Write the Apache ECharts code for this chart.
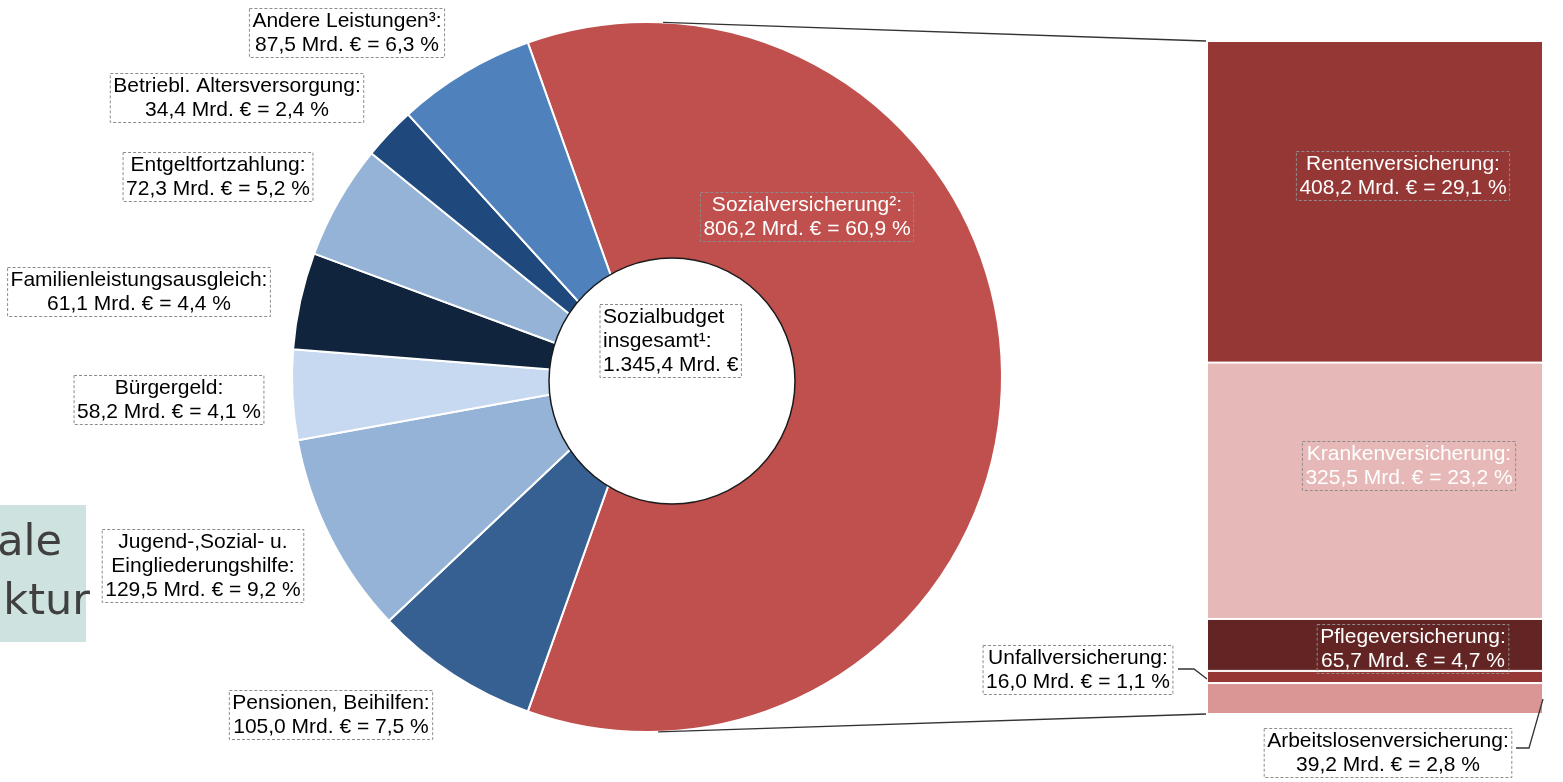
<!DOCTYPE html>
<html>
<head>
<meta charset="utf-8">
<script src="https://cdn.jsdelivr.net/npm/echarts@6/dist/echarts.min.js"></script>
<style>
  html, body { margin: 0; padding: 0; background: #fff; }
  #chart { width: 1563px; height: 782px; }
</style>
</head>
<body>
<div id="chart"></div>
<script>
// Sozialbudget – Kreis
const pieNames = ['Sozialversicherung²', 'Pensionen, Beihilfen', 'Jugend-,Sozial- u.\nEingliederungshilfe', 'Bürgergeld',
  'Familienleistungsausgleich', 'Entgeltfortzahlung', 'Betriebl. Altersversorgung', 'Andere Leistungen³']
const pieAmounts = [806.2, 105.0, 129.5, 58.2, 61.1, 72.3, 34.4, 87.5]
const piePercents = [60.9, 7.5, 9.2, 4.1, 4.4, 5.2, 2.4, 6.3]
const totalName = 'Sozialbudget\ninsgesamt¹'
const totalAmount = 1345.4

// Sozialversicherung – Balken (von unten nach oben)
const barNames = ['Arbeitslosenversicherung', 'Unfallversicherung', 'Pflegeversicherung', 'Krankenversicherung', 'Rentenversicherung']
const barAmounts = [39.2, 16.0, 65.7, 325.5, 408.2]
const barPercents = [2.8, 1.1, 4.7, 23.2, 29.1]

// Farben
const pieColors = ['#C0504D', '#376092', '#95B3D7', '#C6D9F1', '#10243E', '#95B3D7', '#1F497D', '#4F81BD']
const barColors = ['#D99694', '#953735', '#632523', '#E6B9B8', '#953735']
const barTextColors = ['#000', '#000', '#fff', '#fff', '#fff']

// Label-Positionen (Mittelpunkte) und Führungslinien
const pieLabelPos = [[807, 217], [331, 715], [203, 566], [169, 400], [139, 292], [218, 177], [237, 98], [347, 33]]
const barLabelPos = [[1388, 753], [1078, 670], [1413, 649], [1409, 466], [1403, 176]]
const leaderLines = [
  [[1516, 748], [1529, 748], [1543, 699]],
  [[1178, 669], [1194, 669], [1207, 679]]
]

const PIE_C = [647, 377]
const PIE_R = 355
const FONT = "'Liberation Sans', Arial, sans-serif"

const fmt = v => v.toFixed(1).replace('.', ',')
const fmtThousands = v => {
  const parts = v.toFixed(1).split('.')
  return parts[0].replace(/\B(?=(\d{3})+(?!\d))/g, '.') + ',' + parts[1]
}

const boxLabel = {
  fontFamily: FONT,
  fontSize: 21,
  lineHeight: 24,
  color: '#000',
  borderColor: '#8c8c8c',
  borderWidth: 1,
  borderType: [3, 2],
  padding: [1, 3, 0, 3]
}

const chart = echarts.init(document.getElementById('chart'))

const barSum = barPercents.reduce((a, b) => a + b, 0)

chart.setOption({
  animation: false,
  grid: { left: 1207, top: 41, width: 336, height: 673 },
  xAxis: { type: 'category', data: ['Sozialversicherung'], show: false },
  yAxis: { type: 'value', min: 0, max: barSum, show: false },
  series: [
    {
      type: 'pie',
      center: PIE_C,
      radius: [0, PIE_R],
      // Sozialversicherung mittig nach rechts
      startAngle: piePercents[0] * 3.6 / 2,
      clockwise: true,
      avoidLabelOverlap: false,
      silent: true,
      itemStyle: { borderColor: '#fff', borderWidth: 2 },
      label: Object.assign({
        show: true,
        formatter: p => pieNames[p.dataIndex] + ':\n' + fmt(pieAmounts[p.dataIndex]) + ' Mrd. € = ' + fmt(piePercents[p.dataIndex]) + ' %'
      }, boxLabel),
      labelLine: { show: false },
      labelLayout: p => ({ x: pieLabelPos[p.dataIndex][0], y: pieLabelPos[p.dataIndex][1], align: 'center', verticalAlign: 'middle' }),
      data: pieNames.map((n, i) => ({
        name: n,
        value: piePercents[i],
        itemStyle: { color: pieColors[i] },
        label: i === 0 ? { color: '#fff', align: 'left' } : {}
      }))
    },
    {
      type: 'pie',
      center: [672, 381],
      radius: [0, 123],
      silent: true,
      itemStyle: { color: '#fff', borderColor: '#1a1a1a', borderWidth: 1.5 },
      label: Object.assign({
        show: true,
        position: 'center',
        align: 'left',
        formatter: () => totalName + ':\n' + fmtThousands(totalAmount) + ' Mrd. €'
      }, boxLabel),
      labelLine: { show: false },
      labelLayout: () => ({ x: 600, y: 341, align: 'left', verticalAlign: 'middle' }),
      data: [{ name: totalName, value: totalAmount }]
    }
  ].concat(barNames.map((n, i) => ({
    type: 'bar',
    name: n,
    stack: 'sv',
    barWidth: '100%',
    silent: true,
    itemStyle: { color: barColors[i], borderColor: '#fff', borderWidth: 1 },
    label: Object.assign({}, boxLabel, {
      show: true,
      color: barTextColors[i],
      formatter: () => n + ':\n' + fmt(barAmounts[i]) + ' Mrd. € = ' + fmt(barPercents[i]) + ' %'
    }),
    labelLayout: () => ({ x: barLabelPos[i][0], y: barLabelPos[i][1], align: 'center', verticalAlign: 'middle' }),
    data: [barPercents[i]]
  })))
})

// Verbindungslinien Kreis -> Balken, Führungslinien, Kasten links
const topBar = chart.convertToPixel({ gridIndex: 0 }, [0, barSum])
const botBar = chart.convertToPixel({ gridIndex: 0 }, [0, 0])
const ang = a => [PIE_C[0] + PIE_R * Math.sin(a * Math.PI / 180), PIE_C[1] - PIE_R * Math.cos(a * Math.PI / 180)]
const pTop = ang(2.6)
const pBot = ang(178.2)
const gLeft = 1207
const lineStyle = { stroke: '#333', lineWidth: 1.3, fill: null }
const boxFont = "43px 'DejaVu Sans', sans-serif"

chart.setOption({
  graphic: [
    { type: 'rect', id: 'box', x: 0, y: 505, shape: { width: 86, height: 137 }, style: { fill: '#CEE3DF', stroke: null }, z: 0 },
    { type: 'text', id: 't1', x: 62, y: 544, style: { text: 'Soziale', fill: '#404040', font: boxFont, align: 'right', verticalAlign: 'middle' }, z: 1 },
    { type: 'text', id: 't2', x: 90, y: 603, style: { text: 'Struktur', fill: '#404040', font: boxFont, align: 'right', verticalAlign: 'middle' }, z: 1 },
    { type: 'line', id: 'c1', shape: { x1: pTop[0], y1: pTop[1], x2: gLeft - 1, y2: topBar[1] }, style: lineStyle, z: 5 },
    { type: 'line', id: 'c2', shape: { x1: pBot[0], y1: pBot[1], x2: gLeft - 1, y2: botBar[1] }, style: lineStyle, z: 5 },
    { type: 'polyline', id: 'l1', shape: { points: leaderLines[0] }, style: lineStyle, z: 5 },
    { type: 'polyline', id: 'l2', shape: { points: leaderLines[1] }, style: lineStyle, z: 5 }
  ]
})
</script>
</body>
</html>
